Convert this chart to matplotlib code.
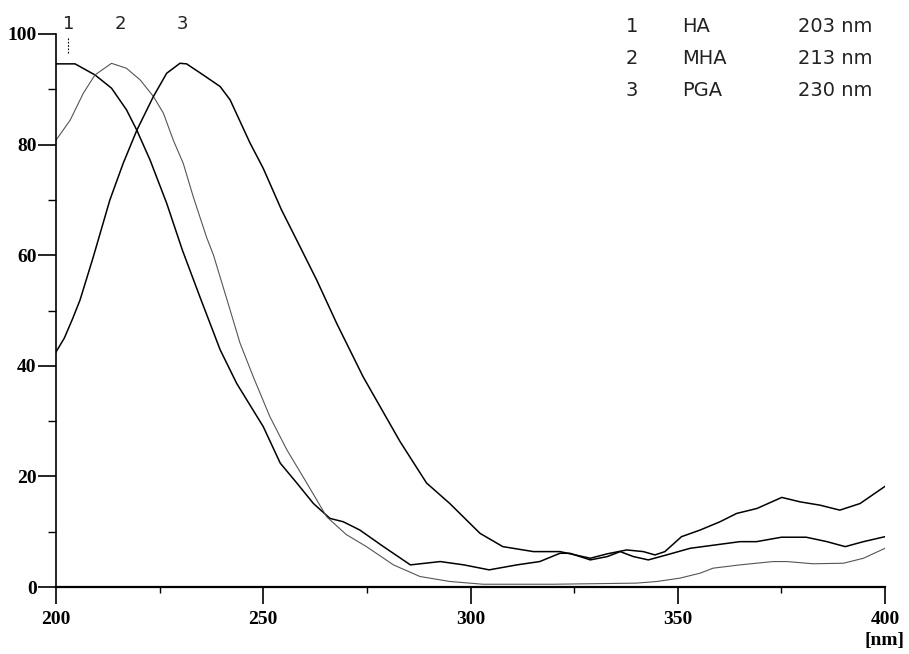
import matplotlib
matplotlib.use('Agg')
from matplotlib import pyplot as plt
from matplotlib.ticker import MultipleLocator

# curve 1 - HA
wl_ha = [200, 204.6, 209.4, 213.4, 217, 219.5, 222.7, 226.7, 230.5, 234.7, 239.6, 243.6,
         250, 254.1, 258.1, 262.1, 266.1, 269.3, 273.3, 279, 285.5, 292.7, 298.4, 304.5,
         311.2, 316.7, 321.6, 324, 328.9, 333, 336.1, 339.3, 342.9, 347.3, 353, 365, 369,
         375, 381, 386, 390.4, 394.8, 400]
ab_ha = [94.6, 94.6, 92.6, 90.2, 86.3, 82.6, 77.2, 69.4, 60.9, 52.5, 42.9, 36.8,
         29.0, 22.4, 18.8, 15.1, 12.4, 11.8, 10.3, 7.3, 4.0, 4.6, 4.0, 3.1,
         4.0, 4.6, 6.1, 6.1, 4.9, 5.5, 6.4, 5.5, 4.9, 5.8, 7.0, 8.2, 8.2,
         9.0, 9.0, 8.2, 7.3, 8.2, 9.1]

# curve 2 - MHA
wl_mha = [200, 203.4, 206.6, 209.4, 213.4, 217, 220.3, 223.5, 225.9, 228.3, 230.7, 233.1,
          236.3, 238, 242, 244.4, 247.6, 251.6, 255.7, 260.5, 265.3, 270, 274.9, 281.4,
          287.8, 295, 303, 320, 340, 345, 350.5, 355.4, 358.5, 365, 373, 376.3, 382.7,
          390, 394.8, 400]
ab_mha = [80.8, 84.4, 89.3, 92.6, 94.7, 93.8, 91.7, 88.7, 85.7, 80.8, 76.6, 70.6,
          63.3, 60.0, 50.1, 44.1, 38.0, 30.8, 24.8, 18.8, 12.7, 9.5, 7.3, 4.0,
          1.9, 1.0, 0.5, 0.5, 0.7, 1.0, 1.6, 2.5, 3.4, 4.0, 4.6, 4.6, 4.2,
          4.3, 5.2, 7.0]

# curve 3 - PGA
wl_pga = [200, 202, 204, 205.8, 209, 213, 216.2, 219.5, 223.5, 226.7, 229.9, 231.5,
          235.5, 239.6, 242, 246.8, 250, 254.4, 258.9, 262.9, 267.7, 274.1, 283, 289.4,
          295, 302.3, 307.8, 315.2, 321.6, 328.9, 333, 337.7, 341.7, 344.5, 346.9, 350.9,
          355.4, 360.2, 364.2, 369.1, 375.1, 379.5, 384.3, 389.1, 394, 400]
ab_pga = [42.5, 45.0, 48.5, 51.9, 59.7, 70.0, 76.6, 82.6, 88.7, 92.9, 94.7, 94.6,
          92.6, 90.5, 88.1, 80.3, 75.7, 68.2, 61.5, 55.5, 47.7, 38.0, 26.3, 18.8,
          15.1, 9.7, 7.3, 6.4, 6.4, 5.2, 6.0, 6.7, 6.4, 5.8, 6.4, 9.1,
          10.3, 11.8, 13.3, 14.2, 16.2, 15.4, 14.8, 13.9, 15.1, 18.2]

numbers = ['1', '2', '3']
names = ['HA', 'MHA', 'PGA']
peaks = [203, 213, 230]
label_x = [203, 215.5, 230.5]   # where the curve numbers sit above the plot

W, H = 909, 654
fig = plt.figure(figsize=(W / 100, H / 100), dpi=100)
ax = fig.add_axes([56 / W, 1 - 587 / H, (885 - 56) / W, (587 - 34) / H])

ax.plot(wl_ha, ab_ha, color='black', lw=1.1, solid_joinstyle='round')
ax.plot(wl_mha, ab_mha, color='#555555', lw=0.8, solid_joinstyle='round')
ax.plot(wl_pga, ab_pga, color='black', lw=1.1, solid_joinstyle='round')

ax.set_xlim(200, 400)
ax.set_ylim(0, 100)

for s in ['top', 'right']:
    ax.spines[s].set_visible(False)
ax.spines['left'].set_linewidth(1.2)
ax.spines['bottom'].set_linewidth(1.6)

ax.xaxis.set_major_locator(MultipleLocator(50))
ax.xaxis.set_minor_locator(MultipleLocator(25))
ax.yaxis.set_major_locator(MultipleLocator(20))
ax.yaxis.set_minor_locator(MultipleLocator(10))
ax.tick_params(axis='x', which='major', direction='out', length=12, width=1.2, pad=5)
ax.tick_params(axis='x', which='minor', direction='out', length=4, width=1.0)
ax.tick_params(axis='y', which='major', direction='out', length=13, width=1.2, pad=1)
ax.tick_params(axis='y', which='minor', direction='out', length=6, width=1.0)

for lab in ax.get_xticklabels() + ax.get_yticklabels():
    lab.set_fontfamily('Liberation Serif')
    lab.set_fontsize(14)
    lab.set_fontweight('bold')

fig.text(905 / W, 1 - 641 / H, '[nm]', ha='right', va='center',
         fontfamily='Liberation Serif', fontsize=14, fontweight='bold')

# dashed marker under label 1
ax.plot([peaks[0], peaks[0]], [96.5, 99.5], color='black', lw=0.8, ls=(0, (1.5, 1.5)))

for n, x in zip(numbers, label_x):
    ax.text(x, 101.8, n, ha='center', va='center', fontsize=13,
            fontfamily='DejaVu Sans', color='#222222', clip_on=False)

rows_y = [26, 58, 90]
for n, name, p, y in zip(numbers, names, peaks, rows_y):
    yy = 1 - y / H
    fig.text(632 / W, yy, n, ha='center', va='center', fontsize=14, color='#222222')
    fig.text(682 / W, yy, name, ha='left', va='center', fontsize=14, color='#222222')
    fig.text(798 / W, yy, f'{p} nm', ha='left', va='center', fontsize=14, color='#222222')

fig.savefig('out.png', dpi=100)
